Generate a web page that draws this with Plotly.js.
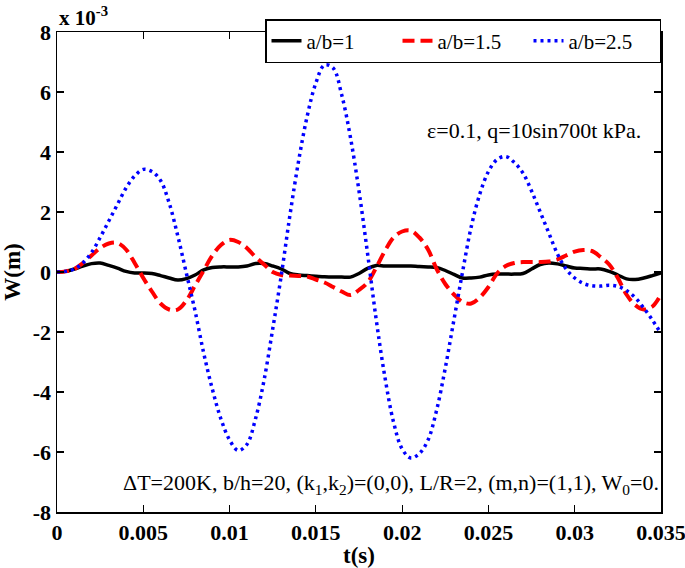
<!DOCTYPE html>
<html>
<head>
<meta charset="utf-8">
<script src="https://cdn.plot.ly/plotly-3.0.1.min.js"></script>
<style>html,body{margin:0;padding:0;background:#fff;}#plot{width:685px;height:568px;}</style>
</head>
<body>
<div id="plot"></div>
<script>
// time (s), step 0.0005 s from 0 to 0.035
var time = [];
for (var i = 0; i <= 70; i++) { time.push(+(i * 0.0005).toFixed(4)); }

// W (x 10^-3 m)
var w_ab1 = [0, 0.02, 0.1, 0.2, 0.28, 0.3, 0.22, 0.13, 0.02, -0.03,
  -0.03, -0.05, -0.12, -0.2, -0.27, -0.22, -0.1, 0.07, 0.15, 0.17,
  0.17, 0.17, 0.2, 0.28, 0.28, 0.2, 0.1, -0.05, -0.1, -0.12,
  -0.14, -0.16, -0.17, -0.17, -0.17, -0.05, 0.12, 0.22, 0.2, 0.2,
  0.2, 0.2, 0.18, 0.17, 0.15, 0.05, -0.08, -0.2, -0.2, -0.17,
  -0.1, -0.07, -0.07, -0.07, -0.05, 0.1, 0.25, 0.3, 0.27, 0.2,
  0.13, 0.12, 0.1, 0.1, 0.02, -0.1, -0.23, -0.25, -0.2, -0.12, -0.03];

var w_ab15 = [0, 0.02, 0.1, 0.3, 0.55, 0.8, 0.95, 0.97, 0.75, 0.3,
  -0.2, -0.65, -1.05, -1.25, -1.25, -0.95, -0.45, 0.05, 0.55, 0.9,
  1.07, 1.0, 0.8, 0.5, 0.25, 0.0, -0.1, -0.12, -0.13, -0.15,
  -0.25, -0.35, -0.5, -0.65, -0.77, -0.6, -0.35, 0.15, 0.7, 1.15,
  1.35, 1.38, 1.15, 0.75, 0.1, -0.4, -0.75, -1.0, -1.05, -0.85,
  -0.5, -0.05, 0.2, 0.3, 0.33, 0.33, 0.33, 0.35, 0.42, 0.55,
  0.68, 0.73, 0.7, 0.5, 0.25, -0.2, -0.75, -1.1, -1.25, -1.15, -0.75];

var w_ab25 = [0, 0.02, 0.1, 0.3, 0.65, 1.15, 1.7, 2.25, 2.8, 3.2,
  3.42, 3.35, 3.05, 2.3, 1.2, -0.05, -1.3, -2.7, -3.9, -4.9,
  -5.6, -5.95, -5.75, -4.9, -3.6, -1.9, -0.1, 1.9, 3.7, 5.2,
  6.3, 6.9, 6.8, 5.9, 4.5, 2.7, 0.6, -1.6, -3.5, -5.0,
  -5.9, -6.2, -6.05, -5.6, -4.6, -3.2, -1.6, 0.0, 1.5, 2.6,
  3.35, 3.75, 3.85, 3.65, 3.3, 2.7, 2.0, 1.3, 0.6, 0.1,
  -0.2, -0.38, -0.46, -0.47, -0.44, -0.48, -0.62, -0.85, -1.2, -1.6, -2.05];

var seriesNames = ['a/b=1', 'a/b=1.5', 'a/b=2.5'];
var xTicks = [0, 0.005, 0.01, 0.015, 0.02, 0.025, 0.03, 0.035];
var xTickText = ['0', '0.005', '0.01', '0.015', '0.02', '0.025', '0.03', '0.035'];
var yTicks = [-8, -6, -4, -2, 0, 2, 4, 6, 8];
var yTickText = ['-8', '-6', '-4', '-2', '0', '2', '4', '6', '8'];

var serif = 'Liberation Serif';

var traces = [
  {x: time, y: w_ab1, name: seriesNames[0], mode: 'lines',
   line: {color: '#000000', width: 3.5, shape: 'spline'}},
  {x: time, y: w_ab15, name: seriesNames[1], mode: 'lines',
   line: {color: '#ff0000', width: 4, dash: '12px,6px', shape: 'spline'}},
  {x: time, y: w_ab25, name: seriesNames[2], mode: 'lines',
   line: {color: '#0000ff', width: 3.5, dash: '3px,4px', shape: 'spline'}}
];

var axisCommon = {
  showline: true, linecolor: '#000', linewidth: 1.5, mirror: 'ticks',
  ticks: 'inside', ticklen: 7, tickwidth: 1.2, tickcolor: '#000',
  showgrid: false, zeroline: false, ticklabeloverflow: 'allow',
  tickfont: {family: serif, size: 22, color: '#000', weight: 'bold'}
};

var layout = {
  width: 685, height: 568,
  margin: {l: 57, r: 24, t: 32, b: 56},
  paper_bgcolor: '#fff', plot_bgcolor: '#fff',
  showlegend: true,
  legend: {
    orientation: 'h', x: 1.0, xanchor: 'right', y: 0.935, yanchor: 'bottom',
    bgcolor: '#fff', bordercolor: '#000', borderwidth: 1.5,
    font: {family: serif, size: 21, color: '#000'},
    entrywidth: 86, entrywidthmode: 'pixels', tracegroupgap: 0
  },
  xaxis: Object.assign({}, axisCommon, {
    range: [0, 0.035], tickvals: xTicks, ticktext: xTickText,
    title: {text: 't(s)', font: {family: serif, size: 23, color: '#000', weight: 'bold'}, standoff: 4}
  }),
  yaxis: Object.assign({}, axisCommon, {
    range: [-8, 8], tickvals: yTicks, ticktext: yTickText,
    title: {text: 'W(m)', font: {family: serif, size: 23, color: '#000', weight: 'bold'}, standoff: 6}
  }),
  annotations: [
    {xref: 'paper', yref: 'paper', x: 0.0, y: 1.0, xanchor: 'left', yanchor: 'bottom',
     text: '<b>x 10<sup>-3</sup></b>', showarrow: false,
     font: {family: serif, size: 21, color: '#000'}},
    {xref: 'paper', yref: 'paper', x: 0.97, y: 0.795, xanchor: 'right', yanchor: 'middle',
     text: 'ε=0.1, q=10sin700t kPa.', showarrow: false,
     font: {family: serif, size: 22, color: '#000'}},
    {xref: 'paper', yref: 'paper', x: 1.0, y: 0.058, xanchor: 'right', yanchor: 'middle',
     text: 'ΔT=200K, b/h=20, (k<sub>1</sub>,k<sub>2</sub>)=(0,0), L/R=2, (m,n)=(1,1), W<sub>0</sub>=0.',
     showarrow: false, font: {family: serif, size: 22, color: '#000'}}
  ]
};

Plotly.newPlot('plot', traces, layout, {displayModeBar: false, staticPlot: true});
</script>
</body>
</html>
